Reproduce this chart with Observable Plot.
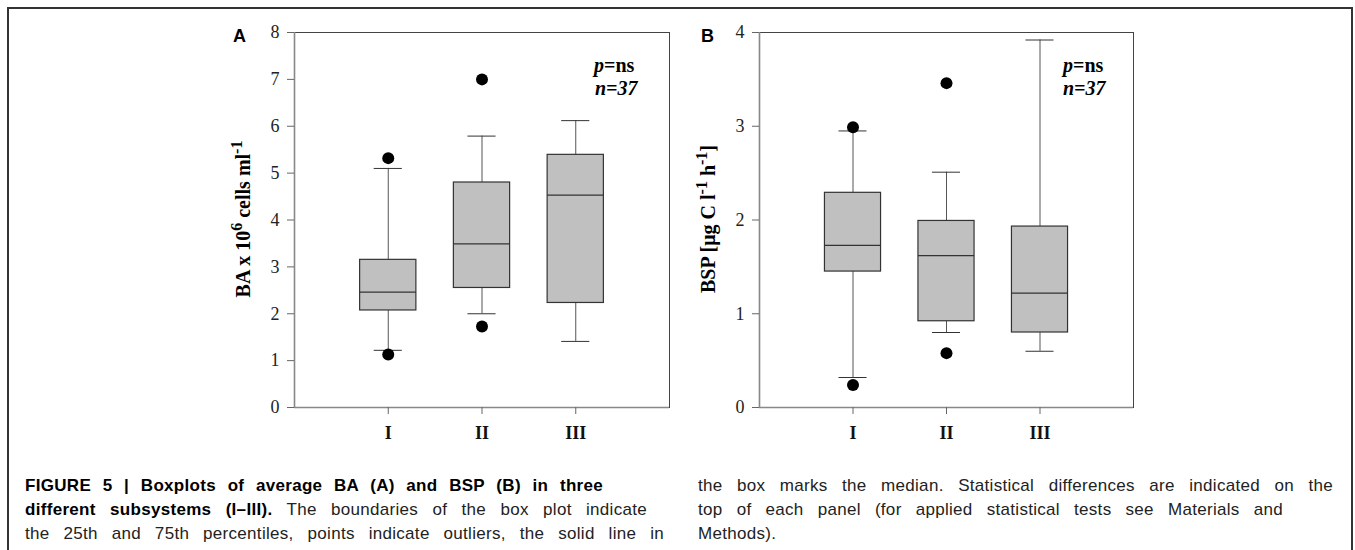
<!DOCTYPE html>
<html>
<head>
<meta charset="utf-8">
<script src="https://cdn.jsdelivr.net/npm/d3@7"></script>
<script src="https://cdn.jsdelivr.net/npm/@observablehq/plot@0.6"></script>
<style>
  html, body { margin: 0; padding: 0; background: #fff; }
  #wrap { position: relative; width: 1355px; height: 550px; overflow: hidden; background: #fff; }
  #border { position: absolute; left: 7px; top: 7px; width: 1342px; height: 700px;
            border: 2px solid #333; }
  .plot { position: absolute; top: 0; }
  .panel { position: absolute; font-family: "Liberation Sans", Arial, sans-serif; font-weight: bold;
           font-size: 18px; line-height: 18px; color: #000; }
  .ylab { position: absolute; font-family: "Liberation Serif", "Times New Roman", serif; font-weight: bold;
          font-size: 20px; white-space: nowrap; transform: translate(-50%, -50%) rotate(-90deg); color: #000; }
  .ylab sup { font-size: 16px; vertical-align: 8px; line-height: 0; }
  .stat { position: absolute; font-family: "Liberation Serif", "Times New Roman", serif; font-weight: bold;
          font-size: 20px; line-height: 20px; color: #000; white-space: nowrap; }
  .cap { position: absolute; font-family: "Liberation Sans", Arial, sans-serif; font-size: 17px;
         letter-spacing: 0.3px; line-height: 24px; color: #222; }
  .cap div { text-align: justify; text-align-last: justify; }
  .cap div.last { text-align-last: left; }
  .cap b { color: #000; }
</style>
</head>
<body>
<div id="wrap">
  <div id="border"></div>
  <div id="plotA" class="plot" style="left:200px"></div>
  <div id="plotB" class="plot" style="left:680px"></div>

  <div class="panel" style="left:233px; top:27px;">A</div>
  <div class="panel" style="left:701px; top:27px;">B</div>

  <div class="ylab" style="left:243px; top:219px;">BA x 10<sup>6</sup> cells ml<sup>-1</sup></div>
  <div class="ylab" style="left:708px; top:219px;">BSP [μg C l<sup>-1</sup> h<sup>-1</sup>]</div>

  <div class="stat" style="left:594px; top:55px;"><i>p</i>=ns</div>
  <div class="stat" style="left:595px; top:78px;"><i>n=37</i></div>
  <div class="stat" style="left:1063px; top:55px;"><i>p</i>=ns</div>
  <div class="stat" style="left:1063px; top:78px;"><i>n=37</i></div>

  <div class="cap" style="left:25px; top:474px;">
    <div style="width:578px"><b>FIGURE 5 | Boxplots of average BA (A) and BSP (B) in three</b></div>
    <div style="width:622px"><b>different subsystems (I–III).</b> The boundaries of the box plot indicate</div>
    <div style="width:639px">the 25th and 75th percentiles, points indicate outliers, the solid line in</div>
  </div>
  <div class="cap" style="left:698px; top:474px;">
    <div style="width:635px">the box marks the median. Statistical differences are indicated on the</div>
    <div style="width:585px">top of each panel (for applied statistical tests see Materials and</div>
    <div class="last" style="width:635px">Methods).</div>
  </div>
</div>

<script>
// Categories
const groups = ["I", "II", "III"];

// Panel A: BA x 10^6 cells ml^-1
const baLow  = [1.22, 2.00, 1.41];
const baQ1   = [2.07, 2.55, 2.23];
const baMed  = [2.46, 3.49, 4.53];
const baQ3   = [3.15, 4.80, 5.39];
const baHigh = [5.10, 5.79, 6.12];
const baOutGroup = ["I", "I", "II", "II"];
const baOutValue = [5.32, 1.13, 7.00, 1.73];
const baTicks = [0, 1, 2, 3, 4, 5, 6, 7, 8];

// Panel B: BSP [µg C l^-1 h^-1]
const bspLow  = [0.32, 0.80, 0.60];
const bspQ1   = [1.45, 0.92, 0.80];
const bspMed  = [1.73, 1.62, 1.22];
const bspQ3   = [2.29, 1.99, 1.93];
const bspHigh = [2.95, 2.51, 3.92];
const bspOutGroup = ["I", "I", "II", "II"];
const bspOutValue = [2.99, 0.24, 3.46, 0.58];
const bspTicks = [0, 1, 2, 3, 4];

const serif = "'Liberation Serif', 'Times New Roman', serif";

function rowsFrom(low, q1, med, q3, high) {
  return groups.map((g, i) => ({x: i + 1, low: low[i], q1: q1[i], med: med[i], q3: q3[i], high: high[i]}));
}
function outFrom(gs, vs) {
  return gs.map((g, i) => ({x: groups.indexOf(g) + 1, v: vs[i]}));
}

function panel({rows, outs, ticks, width, marginLeft}) {
  const ymax = ticks[ticks.length - 1];
  return Plot.plot({
    width, height: 450,
    marginLeft, marginRight: 10, marginTop: 32, marginBottom: 43,
    x: {domain: [0, 4], label: null},
    y: {domain: [0, ymax], label: null},
    style: {fontFamily: serif, background: "transparent", color: "#222"},
    marks: [
      Plot.ruleX(rows, {x: "x", y1: "q3", y2: "high", stroke: "#555"}),
      Plot.ruleX(rows, {x: "x", y1: "low", y2: "q1", stroke: "#555"}),
      Plot.ruleY(rows, {y: "high", x1: d => d.x - 0.15, x2: d => d.x + 0.15, stroke: "#333"}),
      Plot.ruleY(rows, {y: "low", x1: d => d.x - 0.15, x2: d => d.x + 0.15, stroke: "#333"}),
      Plot.rect(rows, {x1: d => d.x - 0.3, x2: d => d.x + 0.3, y1: "q1", y2: "q3", fill: "#c0c0c0", stroke: "#333", strokeWidth: 1.2}),
      Plot.ruleY(rows, {y: "med", x1: d => d.x - 0.3, x2: d => d.x + 0.3, stroke: "#333", strokeWidth: 1.2}),
      Plot.dot(outs, {x: "x", y: "v", r: 6, fill: "#000", stroke: "none"}),
      Plot.frame({stroke: "#444"}),
      Plot.ruleX([0], {stroke: "#888", strokeWidth: 1.6}),
      Plot.ruleY([0], {stroke: "#888", strokeWidth: 1.6}),
      Plot.axisY({ticks, tickFormat: d => String(d), tickSize: 7, tickPadding: 8, fontSize: 18,
                  fontFamily: serif, stroke: "#666", fill: "#222", label: null}),
      Plot.axisX({ticks: [1, 2, 3], tickFormat: d => groups[d - 1], tickSize: 7, tickPadding: 12,
                  fontSize: 18, fontWeight: "bold", fontFamily: serif, stroke: "#666", fill: "#111", label: null})
    ]
  });
}

document.getElementById("plotA").appendChild(panel({
  rows: rowsFrom(baLow, baQ1, baMed, baQ3, baHigh),
  outs: outFrom(baOutGroup, baOutValue),
  ticks: baTicks, width: 479, marginLeft: 94
}));
document.getElementById("plotB").appendChild(panel({
  rows: rowsFrom(bspLow, bspQ1, bspMed, bspQ3, bspHigh),
  outs: outFrom(bspOutGroup, bspOutValue),
  ticks: bspTicks, width: 463, marginLeft: 79
}));
</script>
</body>
</html>
